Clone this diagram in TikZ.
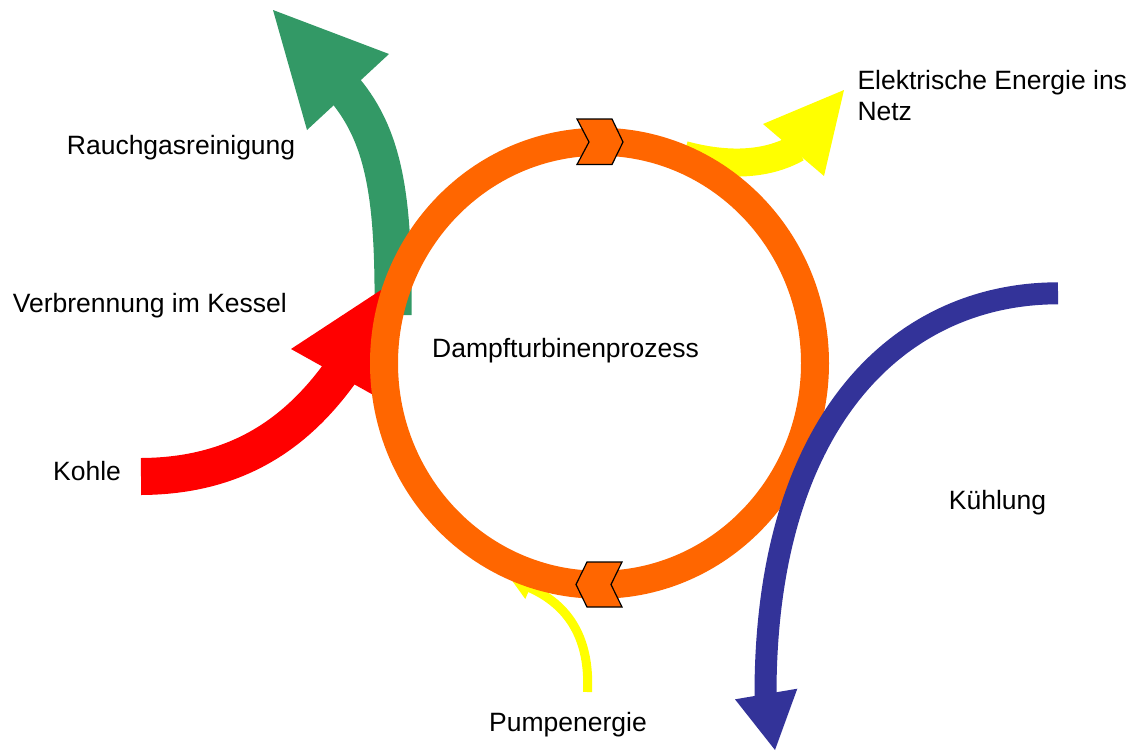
\documentclass[tikz,border=0pt]{standalone}
\usepackage{fontspec}
\setmainfont{Liberation Sans}
\definecolor{ringorange}{HTML}{FF6600}
\definecolor{smokegreen}{HTML}{339966}
\definecolor{coalred}{HTML}{FF0000}
\definecolor{powyellow}{HTML}{FFFF00}
\definecolor{coolblue}{HTML}{333399}
\tikzset{
  lbl/.style={anchor=base west, inner sep=0pt, font=\fontsize{26.5}{31}\selectfont},
  shaft/.style={line cap=butt},
  chev/.style={fill=ringorange, draw=black, line width=1.2pt, line join=miter}
}
\begin{document}
\begin{tikzpicture}[x=1pt,y=-1pt]
\useasboundingbox (0,0) rectangle (1132,753);
% green arrow (Rauchgasreinigung)
\draw[shaft, smokegreen, line width=37pt] (393,315) .. controls (394,200) and (385,138) .. (345,90);
\fill[smokegreen] (273,10) -- (389,54) -- (307,130) -- cycle;
% red arrow (Kohle)
\draw[shaft, coalred, line width=37pt] (141,476.5) .. controls (235,476) and (295,435) .. (340,373);
\fill[coalred] (381,290) -- (377,397) -- (291,349) -- cycle;
% yellow arrow (Elektrische Energie)
\draw[shaft, powyellow, line width=28pt] (684,155) .. controls (725,166) and (765,166) .. (797,148);
\fill[powyellow] (844,90) -- (824,176) -- (763,124) -- cycle;
% yellow thin arrow (Pumpenergie)
\draw[shaft, powyellow, line width=9pt] (587.5,692) .. controls (590,640) and (570,605) .. (528,587);
\fill[powyellow] (511.6,580) -- (534.7,577) -- (525.3,599) -- cycle;
% steam turbine cycle ring
\draw[ringorange, line width=28pt] (599.5,363.25) ellipse [x radius=215.5, y radius=221.5];
\filldraw[chev] (577,119) -- (612,119) -- (623,142) -- (612,164.5) -- (577,164.5) -- (589,142) -- cycle;
\filldraw[chev] (587,562) -- (622,562) -- (611,584.5) -- (622,607) -- (587,607) -- (576,584.5) -- cycle;
% blue arrow (Kuehlung)
\draw[shaft, coolblue, line width=22pt] (1058,293.3) .. controls (900,293.3) and (765,420) .. (765.5,696);
\fill[coolblue] (775,750) -- (735,699.3) -- (797.3,688.7) -- cycle;
% labels
\node[lbl] (rauch) at (66.7,154.3) {Rauchgasreinigung};
\node[lbl] (verb) at (12.7,312.7) {Verbrennung im Kessel};
\node[lbl] (kohle) at (53,480) {Kohle};
\node[lbl] (dampf) at (432,357) {Dampfturbinenprozess};
\node[lbl] (elek) at (857.3,89.3) {Elektrische Energie ins};
\node[lbl] (netz) at (857.3,120) {Netz};
\node[lbl] (kuehl) at (948.7,509.3) {Kühlung};
\node[lbl] (pumpe) at (489,731) {Pumpenergie};
\end{tikzpicture}
\end{document}
